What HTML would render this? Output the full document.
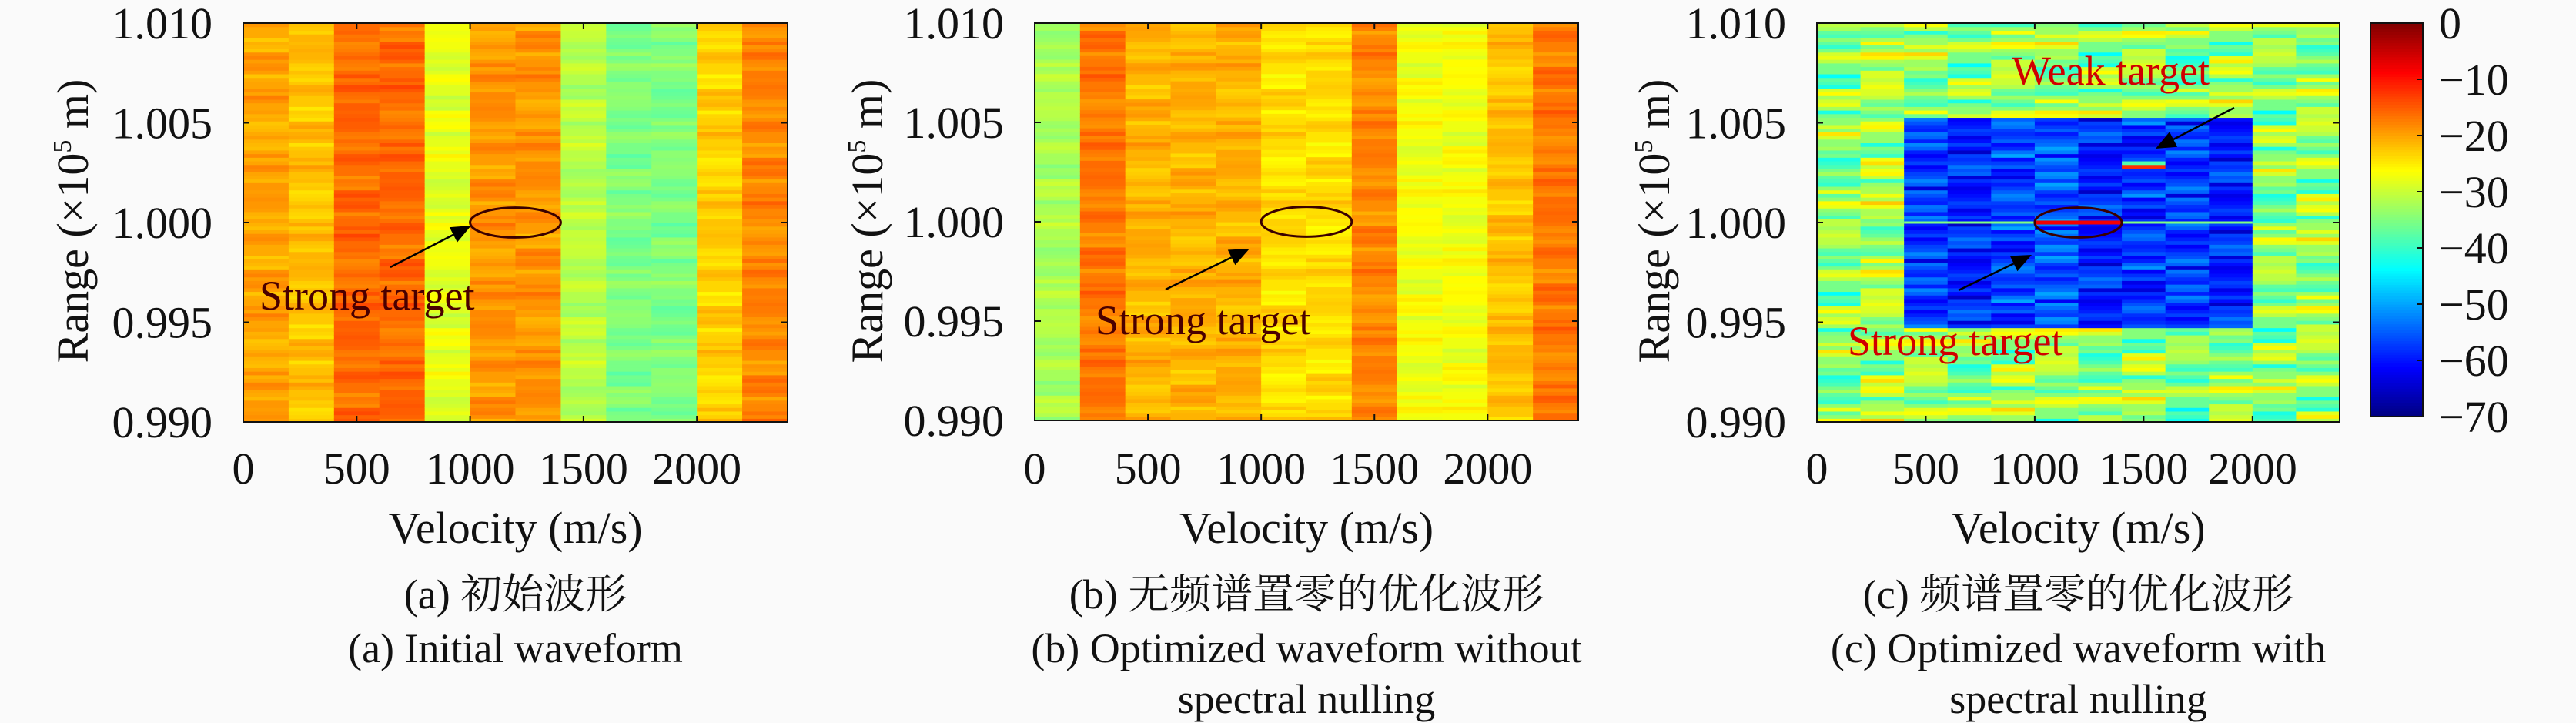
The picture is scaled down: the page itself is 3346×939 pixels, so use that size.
<!DOCTYPE html>
<html><head><meta charset="utf-8">
<style>
html,body{margin:0;padding:0;background:#fafafa;}
svg{display:block;}
svg text{font-family:"Liberation Serif","Noto Serif CJK SC",serif;fill:#111;}
</style></head>
<body>
<svg id="fig" width="3346" height="939" viewBox="0 0 3346 939" xmlns="http://www.w3.org/2000/svg" font-family="'Liberation Serif','Noto Serif CJK SC',serif"></svg>
<script>
// ---- data ----
const velocityTicks = [0, 500, 1000, 1500, 2000];
const rangeTicks = [0.990, 0.995, 1.000, 1.005, 1.010];
const rangeTickLabels = ["0.990", "0.995", "1.000", "1.005", "1.010"];
const colorbarTicks = [0, -10, -20, -30, -40, -50, -60, -70];
const columnEdges = [0,200,400,600,800,1000,1200,1400,1600,1800,2000,2200,2400];
const baseA = [-20,-22,-16,-16,-28,-19,-19,-31,-35,-35,-23,-18];
const baseB = [-32,-17,-21,-21,-21,-24,-24,-18,-27,-27,-22,-17];
const baseC = [-34,-32,-33,-34,-33,-33,-34,-33,-35,-33,-34,-33];
const blockC = [-58,-58,-57,-56,-58,-58,-58,-58]; // columns 2..9 inside null region
const blockRange = [0.9948, 1.0053];
const stripes = [2,-3,0,4,-1,-5,1,3,-2,0,5,-4,1,-1,2,-6,3,0,-2,4,-3,1,-1,6,-2,0,3,-4,2,-1,
                 0,4,-3,1,-5,2,-1,3,0,-2,5,-1,-3,2,0,-4,1,3,-2,-1,4,0,-3,2,-5,1,0,3,-1,-2];
const ellipseV = [1200, 1.0000, 200, 0.00075];
// ---- helpers ----
const NS="http://www.w3.org/2000/svg";
const svg=document.getElementById('fig');
function el(tag,attrs,parent){const e=document.createElementNS(NS,tag);for(const k in attrs)e.setAttribute(k,attrs[k]);(parent||svg).appendChild(e);return e;}
function jet(v){let t=(v+70)/70;t=Math.max(0,Math.min(1,t));
  const f=x=>Math.max(0,Math.min(1,1.5-Math.abs(4*t-x)));
  return `rgb(${Math.round(255*f(3))},${Math.round(255*f(2))},${Math.round(255*f(1))})`;}
const panels=[
 {id:'a',L:316,R:1023,T:30,B:548,base:baseA,ylx:96,cap:["(a) 初始波形","(a) Initial waveform"]},
 {id:'b',L:1344,R:2050,T:30,B:546,base:baseB,ylx:1128,cap:["(b) 无频谱置零的优化波形","(b) Optimized waveform without","spectral nulling"]},
 {id:'c',L:2360,R:3039,T:30,B:548,base:baseC,ylx:2150,cap:["(c) 频谱置零的优化波形","(c) Optimized waveform with","spectral  nulling"]}
];
const NROWS=110;
panels.forEach((p,pi)=>{
  const g=el('g',{});
  
  
  const xs=v=>p.L+(v-0)/2400*(p.R-p.L);
  const ys=r=>p.B-(r-0.990)/0.020*(p.B-p.T);
  const hm=el('g',{},g);
  
  
  for(let c=0;c<12;c++){
    for(let r=0;r<NROWS;r++){
      const r0=0.990+r*0.020/NROWS, r1=r0+0.020/NROWS, rm=(r0+r1)/2;
      let v=p.base[c]+stripes[(r*7+c*13+pi*5)%stripes.length]*(pi==2?1.6:0.45);
      if(pi==2 && c>=2 && c<=9 && rm>blockRange[0] && rm<blockRange[1]){
        v=blockC[c-2]+stripes[(r*3+c*11)%stripes.length]*1.2;
      }
      if(pi==2 && c==7 && Math.abs(rm-1.003)<0.00012) v=-38;
      if(pi==2 && c==7 && Math.abs(rm-1.0028)<0.00009) v=-12;
      const rc=el('rect',{x:xs(columnEdges[c]),y:ys(r1),width:xs(columnEdges[c+1])-xs(columnEdges[c])+0.6,height:ys(r0)-ys(r1)+0.6,fill:jet(v)},hm);
      
      
    }
  }
  if(pi==2){
    const ln=el('rect',{x:xs(400),y:ys(1.0)-1.5,width:xs(2000)-xs(400),height:3,fill:jet(-35)},hm);
    
    
    const st=el('rect',{x:xs(1000),y:ys(1.0)-2.5,width:xs(1400)-xs(1000),height:5,fill:jet(-8)},hm);
    
    
  }
  el('rect',{x:p.L,y:p.T,width:p.R-p.L,height:p.B-p.T,fill:'none',stroke:'#111','stroke-width':2},g);
  velocityTicks.forEach(v=>{
    el('line',{x1:xs(v),x2:xs(v),y1:p.B,y2:p.B-8,stroke:'#111','stroke-width':2},g);
    el('line',{x1:xs(v),x2:xs(v),y1:p.T,y2:p.T+8,stroke:'#111','stroke-width':2},g);
    const t=el('text',{x:xs(v),y:628,'font-size':58,'text-anchor':'middle'},g);t.textContent=v;
    
    
  });
  rangeTicks.forEach((r,i)=>{
    el('line',{x1:p.L,x2:p.L+8,y1:ys(r),y2:ys(r),stroke:'#111','stroke-width':2},g);
    el('line',{x1:p.R,x2:p.R-8,y1:ys(r),y2:ys(r),stroke:'#111','stroke-width':2},g);
    const t=el('text',{x:p.L-40,y:ys(r)+20,'font-size':58,'text-anchor':'end'},g);t.textContent=rangeTickLabels[i];
    
    
  });
  const xl=el('text',{x:(p.L+p.R)/2,y:705,'font-size':58,'text-anchor':'middle'},g);
  xl.textContent='Velocity (m/s)';
  
  
  const yl=el('text',{x:0,y:0,'font-size':58,'text-anchor':'middle',transform:`translate(${p.ylx+18},287) rotate(-90)`},g);
  yl.innerHTML='Range (×10<tspan font-size="34" dy="-22">5</tspan><tspan dy="22"> m)</tspan>';
  
  
  p.cap.forEach((s,i)=>{
    const t=el('text',{x:(p.L+p.R)/2,y:[790,860,926][i],'font-size':54,'text-anchor':'middle'},g);
    t.textContent=s;
    
    
  });
  const e=el('ellipse',{cx:xs(ellipseV[0]),cy:ys(ellipseV[1]),rx:xs(ellipseV[2])-xs(0),ry:ys(1.0)-ys(1.0+ellipseV[3]),fill:'none',stroke:'#3a0000','stroke-width':3},g);
  
  
  function arrow(x1,y1,x2,y2,name){
    const ag=el('g',{},g);
    
    
    const a=Math.atan2(y2-y1,x2-x1),L=26,W=11;
    const bx=x2-L*Math.cos(a),by=y2-L*Math.sin(a);
    el('line',{x1,y1,x2:bx,y2:by,stroke:'#000','stroke-width':2.5},ag);
    el('polygon',{points:`${x2},${y2} ${bx+W*Math.sin(a)},${by-W*Math.cos(a)} ${bx-W*Math.sin(a)},${by+W*Math.cos(a)}`,fill:'#000'},ag);
  }
  function label(x,y,s,col,name){const t=el('text',{x,y,'font-size':54},g);t.textContent=s;t.style.fill=col;
    
    }
  if(pi==0){arrow(507,347,612,293,'strong-target-arrow');label(337,402,'Strong target','#4a0000','strong-target-label');}
  if(pi==1){arrow(1514,376,1623,323,'strong-target-arrow');label(1423,434,'Strong target','#4a0000','strong-target-label');}
  if(pi==2){arrow(2902,140,2800,193,'weak-target-arrow');label(2613,110,'Weak target','#d00000','weak-target-label');
            arrow(2544,377,2639,331,'strong-target-arrow');label(2400,461,'Strong target','#d00000','strong-target-label');}
});
const cb=el('g',{});


const cL=3079,cR=3147,cT=30,cB=541;
const cys=v=>cT+(0-v)/70*(cB-cT);
for(let i=0;i<140;i++){const v0=-70+i*0.5;
  el('rect',{x:cL,y:cys(v0+0.5),width:cR-cL,height:cys(v0)-cys(v0+0.5)+0.6,fill:jet(v0+0.25)},cb);}
el('rect',{x:cL,y:cT,width:cR-cL,height:cB-cT,fill:'none',stroke:'#111','stroke-width':2},cb);
colorbarTicks.forEach(v=>{
  el('line',{x1:cR,x2:cR-7,y1:cys(v),y2:cys(v),stroke:'#111','stroke-width':2},cb);
  const t=el('text',{x:3168,y:cys(v)+20,'font-size':58},cb);
  t.textContent=v===0?'0':'−'+(-v);
  
  
});
</script>
</body></html>
